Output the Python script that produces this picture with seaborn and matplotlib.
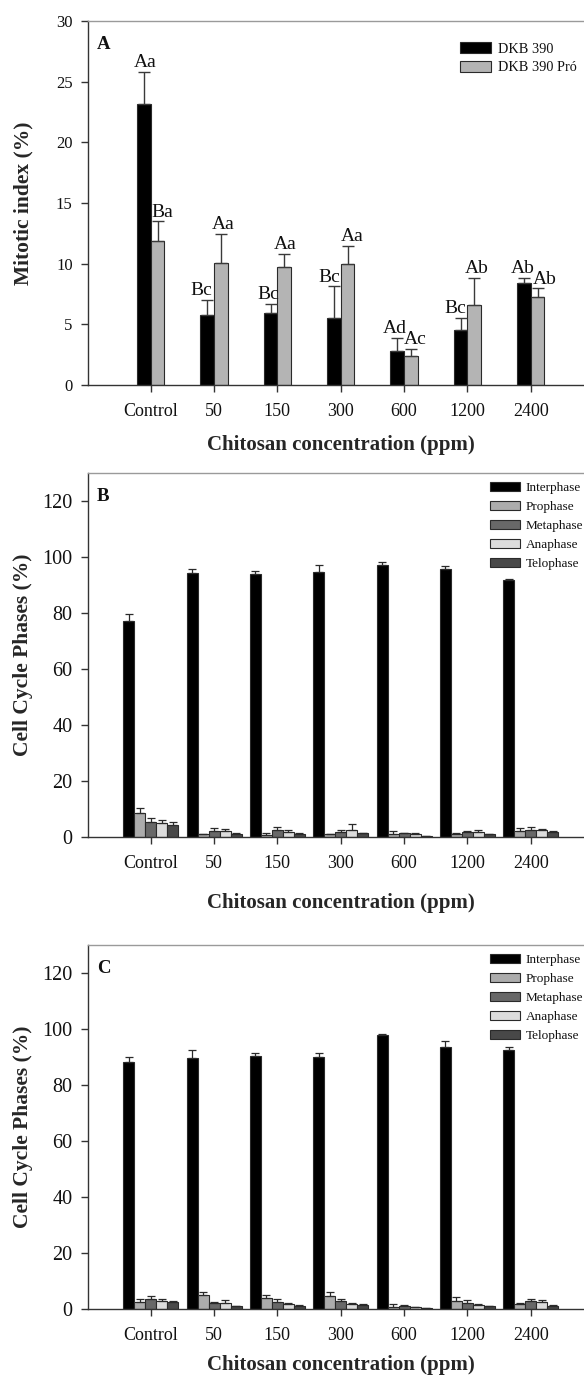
import numpy as np
import pandas as pd
import matplotlib
matplotlib.use("Agg")
import matplotlib.pyplot as plt
import seaborn as sns

# ---------------- data ----------------
concentrations = ['Control', '50', '150', '300', '600', '1200', '2400']
cultivars = ['DKB 390', 'DKB 390 Pró']

mi_dkb390 = [23.15, 5.73, 5.92, 5.53, 2.77, 4.52, 8.41]
mi_dkb390_errtop = [25.8, 7.04, 6.71, 8.14, 3.89, 5.53, 8.82]
mi_pro = [11.9, 10.05, 9.73, 9.97, 2.38, 6.63, 7.23]
mi_pro_errtop = [13.5, 12.44, 10.82, 11.48, 2.99, 8.82, 7.97]
mi_letters_dkb390 = ['Aa', 'Bc', 'Bc', 'Bc', 'Ad', 'Bc', 'Ab']
mi_letters_pro = ['Ba', 'Aa', 'Aa', 'Aa', 'Ac', 'Ab', 'Ab']

phases = ['Interphase', 'Prophase', 'Metaphase', 'Anaphase', 'Telophase']

b_interphase = [77.0, 94.4, 94.1, 94.8, 97.3, 95.6, 91.8]
b_interphase_errtop = [79.5, 95.7, 95.0, 97.3, 98.2, 96.7, 92.3]
b_prophase = [8.7, 1.0, 0.8, 1.0, 1.0, 1.2, 2.3]
b_prophase_errtop = [10.2, 1.2, 1.5, 1.2, 2.1, 1.3, 3.2]
b_metaphase = [5.4, 2.1, 2.5, 1.9, 1.3, 1.9, 2.5]
b_metaphase_errtop = [6.8, 3.1, 3.6, 2.4, 1.4, 2.3, 3.7]
b_anaphase = [5.0, 2.0, 1.8, 2.4, 1.1, 1.8, 2.4]
b_anaphase_errtop = [6.0, 2.7, 2.4, 4.8, 1.3, 2.5, 2.9]
b_telophase = [4.4, 1.2, 1.2, 1.4, 0.4, 1.0, 1.7]
b_telophase_errtop = [5.4, 1.4, 1.4, 1.5, 0.4, 1.1, 2.3]

c_interphase = [88.2, 89.8, 90.4, 90.0, 97.7, 93.6, 92.6]
c_interphase_errtop = [89.9, 92.4, 91.4, 91.4, 98.3, 95.8, 93.5]
c_prophase = [2.6, 5.0, 4.0, 4.8, 0.8, 3.0, 1.8]
c_prophase_errtop = [3.6, 6.1, 5.0, 5.9, 1.7, 4.4, 2.3]
c_metaphase = [3.6, 2.0, 2.6, 2.7, 1.2, 2.3, 2.7]
c_metaphase_errtop = [4.8, 2.6, 3.5, 3.5, 1.4, 3.1, 3.6]
c_anaphase = [3.0, 2.3, 1.7, 1.8, 0.6, 1.4, 2.5]
c_anaphase_errtop = [3.7, 3.2, 2.1, 2.1, 0.8, 1.7, 3.2]
c_telophase = [2.4, 1.1, 1.0, 1.6, 0.4, 1.2, 1.2]
c_telophase_errtop = [3.0, 1.1, 1.4, 1.7, 0.4, 1.2, 1.5]

# ---------------- style ----------------
sns.set_theme(style="ticks")
plt.rcParams['font.family'] = ['Liberation Serif', 'DejaVu Serif']
plt.rcParams['axes.edgecolor'] = '#333333'
plt.rcParams['xtick.color'] = '#333333'
plt.rcParams['ytick.color'] = '#333333'
plt.rcParams['xtick.labelcolor'] = '#111111'
plt.rcParams['ytick.labelcolor'] = '#111111'
plt.rcParams['text.color'] = '#111111'

W, H = 584, 1382
fig = plt.figure(figsize=(W / 100, H / 100), dpi=100)
LEFT_PX = 88


def make_axes(top_px, bottom_px):
    left = LEFT_PX / W
    return fig.add_axes([left, 1 - bottom_px / H, 1 - left, (bottom_px - top_px) / H])


def style_axes(ax, ymax, yticks, ytick_size, ylabel, xlabel, xlab_y, ylab_x, letter):
    ax.set_xlim(-0.99, 6.84)
    ax.set_ylim(0, ymax)
    ax.set_yticks(yticks)
    ax.spines['right'].set_visible(False)
    ax.spines['top'].set_color('#9a9a9a')
    ax.spines['top'].set_linewidth(1.0)
    ax.spines['left'].set_linewidth(1.0)
    ax.spines['bottom'].set_linewidth(1.0)
    ax.tick_params(axis='x', length=5, width=1, pad=8, labelsize=13)
    ax.tick_params(axis='y', length=5, width=1, pad=6, labelsize=ytick_size)
    ax.set_xlabel(xlabel, fontsize=15, fontweight='bold')
    ax.set_ylabel(ylabel, fontsize=15.5, fontweight='bold')
    ax.xaxis.set_label_coords(0.51, xlab_y)
    ax.yaxis.set_label_coords(ylab_x, 0.5)
    ax.text(0.018, 0.935, letter, transform=ax.transAxes, fontsize=13.5,
            fontweight='bold', ha='left', va='center')


# ---------------- Panel A ----------------
axA = make_axes(21, 385)
dfA = pd.DataFrame({
    'conc': concentrations * 2,
    'cultivar': [cultivars[0]] * 7 + [cultivars[1]] * 7,
    'value': mi_dkb390 + mi_pro,
})
sns.barplot(data=dfA, x='conc', y='value', hue='cultivar', order=concentrations,
            hue_order=cultivars, palette=['#000000', '#b4b4b4'], width=0.43,
            errorbar=None, edgecolor='#2a2a2a', linewidth=0.8, ax=axA)

# horizontal nudges (points) of the letter labels, as in the original layout
nudges = [[1, -4.5, -1.5, -3, -1.5, -4, -1], [3.5, 2, 1, 3.5, 3, 1.5, 5.5]]
for k, (cont, vals, tops, letters) in enumerate(zip(axA.containers, [mi_dkb390, mi_pro],
                                                    [mi_dkb390_errtop, mi_pro_errtop],
                                                    [mi_letters_dkb390, mi_letters_pro])):
    xs = [p.get_x() + p.get_width() / 2 for p in cont]
    v = np.array(vals)
    t = np.array(tops)
    axA.errorbar(xs, v, yerr=[np.zeros_like(v), t - v], fmt='none',
                 ecolor='#3a3a3a', elinewidth=1, capsize=4, capthick=1)
    for dx, x, tt, lab in zip(nudges[k], xs, t, letters):
        axA.annotate(lab, (x, tt), xytext=(dx, 0.5), textcoords='offset points',
                     ha='center', va='bottom', fontsize=14)

h, l = axA.get_legend_handles_labels()
axA.legend(h, l, loc='upper left', bbox_to_anchor=(0.738, 0.957), frameon=False,
           fontsize=10.3, handlelength=2.2, handleheight=0.75, handletextpad=0.45,
           labelspacing=0.38, borderaxespad=0)
style_axes(axA, 30, [0, 5, 10, 15, 20, 25, 30], 12, 'Mitotic index (%)',
           'Chitosan concentration (ppm)', -0.137, -0.11, 'A')

# ---------------- Panels B and C ----------------
phase_colors = ['#000000', '#acacac', '#686868', '#dcdcdc', '#484848']


def phase_panel(top_px, bottom_px, vals_list, tops_list, letter, xlab_y):
    ax = make_axes(top_px, bottom_px)
    df = pd.DataFrame({
        'conc': concentrations * len(phases),
        'phase': [p for p in phases for _ in concentrations],
        'value': sum([list(v) for v in vals_list], []),
    })
    sns.barplot(data=df, x='conc', y='value', hue='phase', order=concentrations,
                hue_order=phases, palette=phase_colors, width=0.87,
                errorbar=None, edgecolor='#2a2a2a', linewidth=0.8, ax=ax)
    for cont, vals, tops in zip(ax.containers, vals_list, tops_list):
        xs = [p.get_x() + p.get_width() / 2 for p in cont]
        v = np.array(vals)
        t = np.array(tops)
        ax.errorbar(xs, v, yerr=[np.zeros_like(v), t - v], fmt='none',
                    ecolor='#2a2a2a', elinewidth=0.9, capsize=3, capthick=0.9)
    h, l = ax.get_legend_handles_labels()
    ax.legend(h, l, loc='upper left', bbox_to_anchor=(0.80, 0.99), frameon=False,
              fontsize=9.5, handlelength=2.3, handleheight=0.74, handletextpad=0.4,
              labelspacing=0.5, borderaxespad=0)
    style_axes(ax, 130, [0, 20, 40, 60, 80, 100, 120], 14.5, 'Cell Cycle Phases (%)',
               'Chitosan concentration (ppm)', xlab_y, -0.11, letter)
    return ax


phase_panel(473, 837,
            [b_interphase, b_prophase, b_metaphase, b_anaphase, b_telophase],
            [b_interphase_errtop, b_prophase_errtop, b_metaphase_errtop,
             b_anaphase_errtop, b_telophase_errtop], 'B', -0.154)
phase_panel(945, 1309,
            [c_interphase, c_prophase, c_metaphase, c_anaphase, c_telophase],
            [c_interphase_errtop, c_prophase_errtop, c_metaphase_errtop,
             c_anaphase_errtop, c_telophase_errtop], 'C', -0.126)

fig.savefig('out.png', dpi=100)
